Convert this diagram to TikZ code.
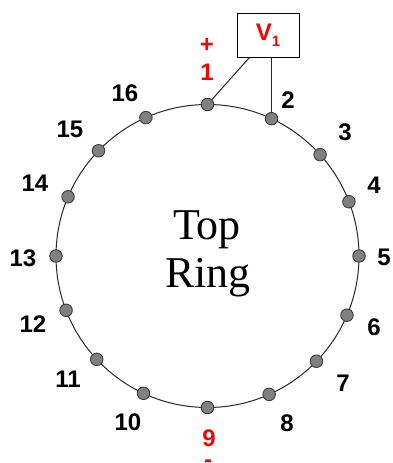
\documentclass[tikz,border=0pt]{standalone}
\usepackage{fontspec}
\setmainfont{Liberation Sans}
\newfontfamily\serifface{Liberation Serif}
\definecolor{ringred}{RGB}{255,0,0}
\definecolor{dotgray}{RGB}{128,128,128}
\definecolor{dotedge}{RGB}{60,60,60}
\definecolor{ringline}{RGB}{40,40,40}
\begin{document}
\begin{tikzpicture}[x=1pt,y=-1pt,
  dot/.style={circle,fill=dotgray,draw=dotedge,line width=0.9pt,minimum size=12.5pt,inner sep=0pt},
  lbl/.style={font=\fontsize{24}{24}\selectfont\bfseries,inner sep=0pt},
  rlbl/.style={lbl,text=ringred},
  ringstyle/.style={draw=ringline,line width=1pt},
  wire/.style={draw=ringline,line width=1pt},
  bigtext/.style={font=\serifface\fontsize{44}{44}\selectfont,anchor=base,inner sep=0pt}]
\useasboundingbox (0,0) rectangle (393,463);
\fill[white] (0,0) rectangle (393,463);
% ring
\node[circle,ringstyle,minimum size=303pt,inner sep=0pt] (ring) at (207.5,256) {};
% dots
\foreach \i/\a in {1/0,2/25,3/48,4/69,5/90,6/113,7/134,8/156,9/180,10/205,11/227,12/249,13/270,14/293,15/314,16/336}
  \node[dot] (d\i) at ({207.5+151.5*sin(\a)},{256-151.5*cos(\a)}) {};
% labels
\foreach \i/\x/\y in {2/288/100,3/345/132,4/374/185,5/384/257,6/374/327,7/343/383,8/287/423,10/128/422,11/68/379,12/33/324,13/23/258,14/35/183,15/70/129,16/125/93}
  \node[lbl] (l\i) at (\x,\y) {\i};
\node[rlbl] (l1) at (207,72) {1};
\node[rlbl] (plus) at (207,45) {+};
\node[rlbl] (l9) at (209,438) {9};
\node[rlbl] (minus) at (208,464) {-};
% center text
\node[bigtext] (top) at (207,239) {Top};
\node[bigtext] (ringtxt) at (208,287) {Ring};
% voltage box
\node[draw=black,line width=1pt,minimum width=62pt,minimum height=44pt,inner sep=0pt,text=ringred] (vbox) at (268,35)
  {\fontsize{24}{24}\selectfont\bfseries V\raisebox{-6pt}{\fontsize{15}{15}\selectfont 1}};
\draw[wire] ([xshift=13pt]vbox.south west) -- (d1);
\draw[wire] (vbox.south -| d2) -- (d2);
\end{tikzpicture}
\end{document}
